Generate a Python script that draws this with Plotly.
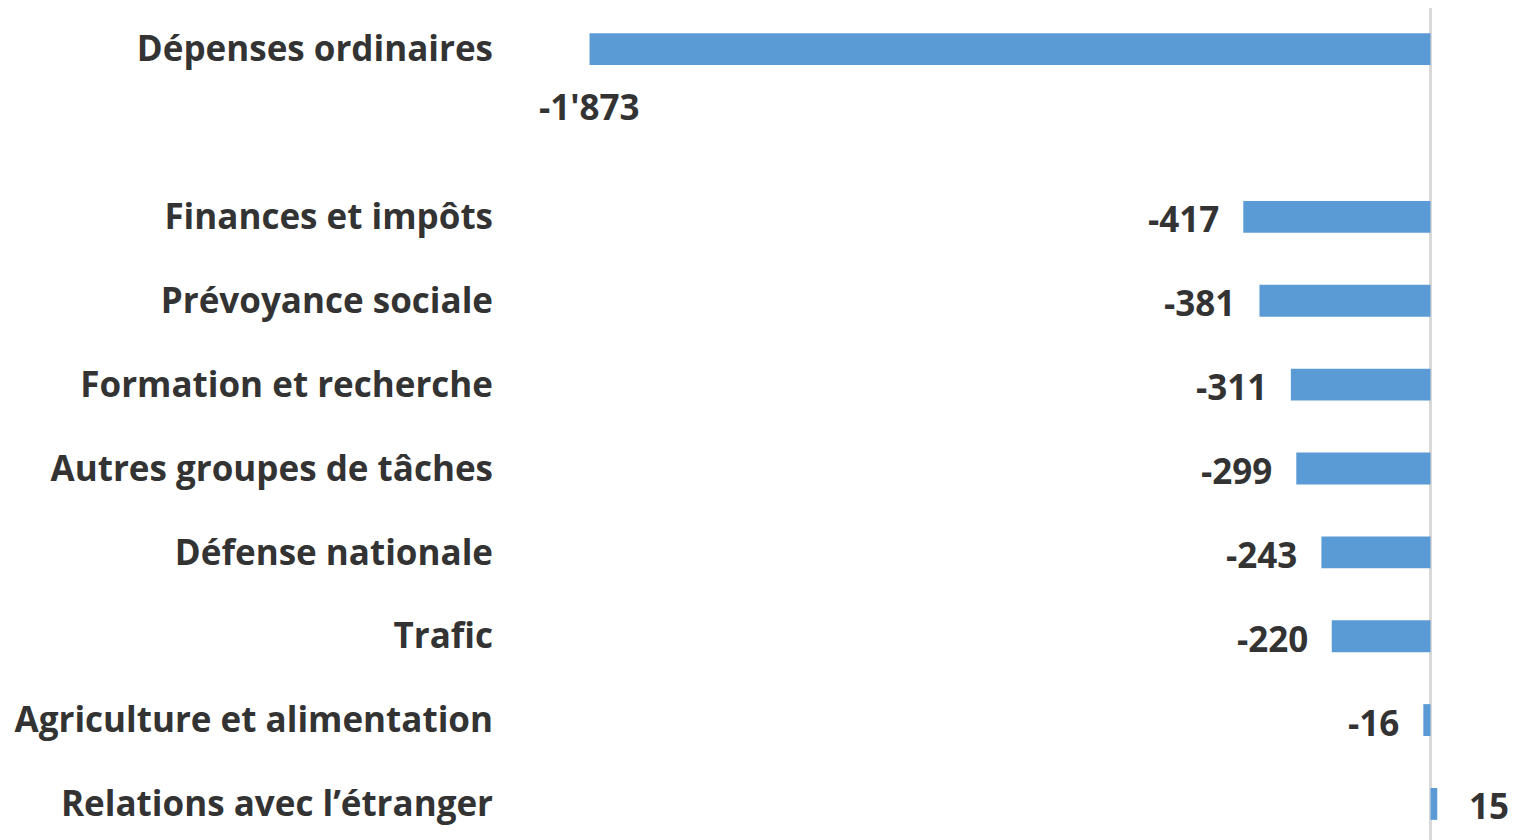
import plotly.graph_objects as go

categories = ["Dépenses ordinaires", " ", "Finances et impôts", "Prévoyance sociale",
              "Formation et recherche", "Autres groupes de tâches", "Défense nationale",
              "Trafic", "Agriculture et alimentation", "Relations avec l’étranger"]
values = [-1873, None, -417, -381, -311, -299, -243, -220, -16, 15]
value_labels = ["-1'873", "", "-417", "-381", "-311", "-299", "-243", "-220", "-16", "15"]

BAR = "#5B9BD5"
TXT = "#333333"
FONT = "Open Sans"
FS = 35

fig = go.Figure(go.Bar(
    x=values, y=categories, orientation="h",
    marker=dict(color=BAR, line=dict(width=0)),
    width=0.38, hoverinfo="skip",
))

vmin = min(x for x in values if x is not None)
anns = []
for c, v, lab in zip(categories, values, value_labels):
    if v is None:
        continue
    if v == vmin:
        anns.append(dict(x=v, y=c, text=lab, showarrow=False, xanchor="center",
                         yanchor="middle", yshift=-57))
    elif v < 0:
        anns.append(dict(x=v, y=c, text=lab, showarrow=False, xanchor="right",
                         yanchor="middle", xshift=-22, yshift=-2))
    else:
        anns.append(dict(x=v, y=c, text=lab, showarrow=False, xanchor="left",
                         yanchor="middle", xshift=30, yshift=-2))

fig.update_layout(
    width=1509, height=832,
    margin=dict(l=492, r=0, t=0, b=0),
    paper_bgcolor="white", plot_bgcolor="white",
    showlegend=False,
    font=dict(family=FONT, size=FS, color=TXT, weight="bold"),
    annotations=anns,
    xaxis=dict(range=[-2072.4, 192.6], showgrid=False, showticklabels=False,
               zeroline=True, zerolinecolor="#D9D9D9", zerolinewidth=3,
               showline=False, ticks=""),
    yaxis=dict(type="category", range=[9.43, -0.49], showgrid=False,
               showline=False, zeroline=False, ticks="", ticklabelstandoff=6,
               tickfont=dict(family=FONT, size=FS, color=TXT, weight="bold")),
)

fig.write_html("out.html")
